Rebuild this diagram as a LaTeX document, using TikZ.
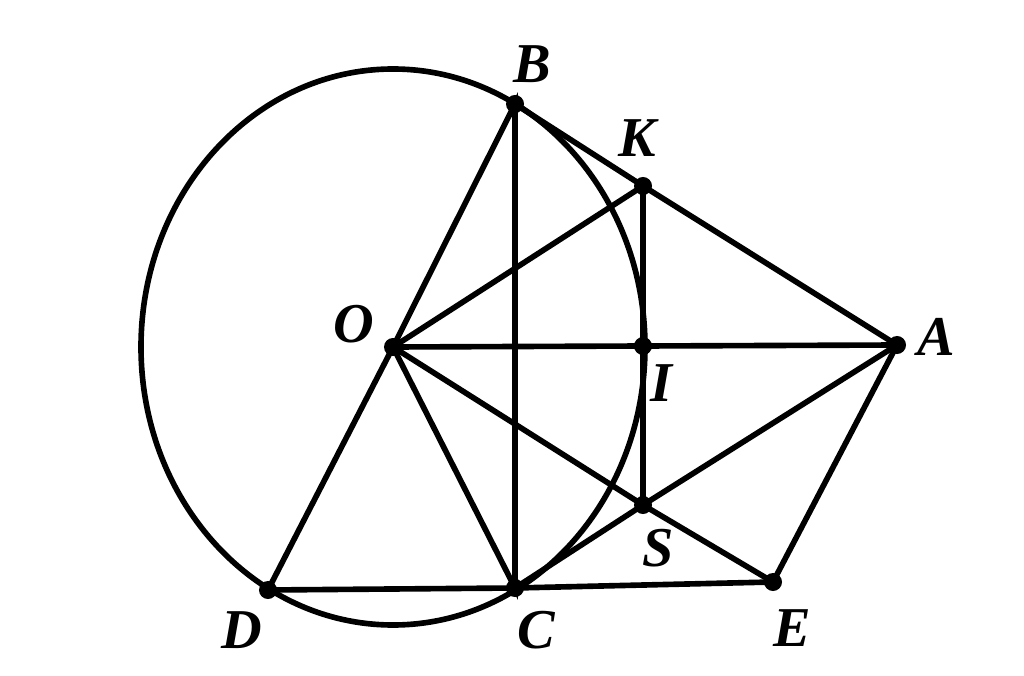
\documentclass[tikz,border=0pt]{standalone}
\usepackage{fontspec}
\setmainfont{Liberation Serif}
\begin{document}
\begin{tikzpicture}[x=0.01cm, y=-0.01cm, line width=1.6pt,
        pt/.style={circle, fill, inner sep=0pt, minimum size=0.18cm},
        lbl/.style={font=\fontsize{16}{18}\selectfont\bfseries\itshape}
      ]
      \useasboundingbox (0, 0) rectangle (1024, 676);
      % points
      \node[pt] at (393, 347) (O) {};
      \node[pt] at (515, 104) (B) {};
      \node[pt] at (643, 186) (K) {};
      \node[pt] at (897, 345) (A) {};
      \node[pt] at (643, 346) (I) {};
      \node[pt] at (643, 505) (S) {};
      \node[pt] at (515, 588) (C) {};
      \node[pt] at (268, 590) (D) {};
      \node[pt] at (773, 582) (E) {};
      % circle
      \draw (O.center) ellipse [x radius=252, y radius=278];
      % edges
      \draw (O.center) -- (B.center) -- (C.center) -- (O.center);
      \draw (O.center) -- (D.center);
      \draw (O.center) -- (K.center);
      \draw (O.center) -- (I.center) -- (A.center);
      \draw (O.center) -- (S.center) -- (E.center);
      \draw (B.center) -- (K.center) -- (A.center);
      \draw (K.center) -- (I.center) -- (S.center);
      \draw (A.center) -- (S.center) -- (C.center);
      \draw (A.center) -- (E.center);
      \draw (D.center) -- (C.center) -- (E.center);
      % labels
      \draw (532, 64) node[lbl] (lB) {B};
      \draw (637, 138) node[lbl] (lK) {K};
      \draw (354, 324) node[lbl] (lO) {O};
      \draw (936, 337) node[lbl] (lA) {A};
      \draw (661, 383) node[lbl] (lI) {I};
      \draw (658, 548) node[lbl] (lS) {S};
      \draw (242, 630) node[lbl] (lD) {D};
      \draw (536, 630) node[lbl] (lC) {C};
      \draw (792, 628) node[lbl] (lE) {E};
  \end{tikzpicture}
\end{document}
